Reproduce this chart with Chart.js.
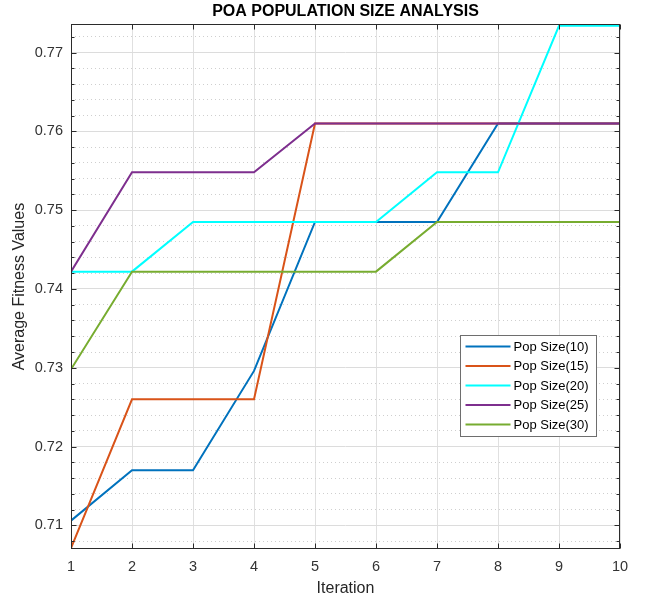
<!DOCTYPE html>
<html>
<head>
<meta charset="utf-8">
<script src="https://cdn.jsdelivr.net/npm/chart.js@4"></script>
<style>
  html, body { margin: 0; padding: 0; background: #fff; }
</style>
</head>
<body>
<canvas id="poa-chart" width="646" height="603"></canvas>
<script>
// values
const iterations = [1, 2, 3, 4, 5, 6, 7, 8, 9, 10];
const popSize10 = [0.7106, 0.7170, 0.7170, 0.7296, 0.7485, 0.7485, 0.7485, 0.7610, 0.7610, 0.7610];
const popSize15 = [0.7071, 0.7260, 0.7260, 0.7260, 0.7610, 0.7610, 0.7610, 0.7610, 0.7610, 0.7610];
const popSize20 = [0.7422, 0.7422, 0.7485, 0.7485, 0.7485, 0.7485, 0.7548, 0.7548, 0.7734, 0.7734];
const popSize25 = [0.7422, 0.7548, 0.7548, 0.7548, 0.7610, 0.7610, 0.7610, 0.7610, 0.7610, 0.7610];
const popSize30 = [0.7298, 0.7422, 0.7422, 0.7422, 0.7422, 0.7422, 0.7485, 0.7485, 0.7485, 0.7485];
const seriesLabels = ['Pop Size(10)', 'Pop Size(15)', 'Pop Size(20)', 'Pop Size(25)', 'Pop Size(30)'];
const yMin = 0.7070, yMax = 0.7736;

const seriesColors = ['#0072BD', '#D95319', '#00FFFF', '#7E2F8E', '#77AC30'];
const allSeries = [popSize10, popSize15, popSize20, popSize25, popSize30];
const FONT = '"Liberation Sans", Arial, sans-serif';

const isMajor = v => Math.abs(v * 100 - Math.round(v * 100)) < 1e-6;

// matlab style box with inward ticks
const framePlugin = {
    id: 'frame',
    afterDatasetsDraw(chart) {
        const { ctx, chartArea: a, scales: { x, y } } = chart;
        const l = Math.round(a.left) + 0.5, r = Math.round(a.right) - 0.5;
        const t = Math.round(a.top) + 0.5, b = Math.round(a.bottom) - 0.5;
        ctx.save();
        ctx.strokeStyle = '#2b2b2b';
        ctx.lineWidth = 1;
        ctx.strokeRect(l, t, r - l, b - t);
        ctx.beginPath();
        y.ticks.forEach(tk => {
            const py = Math.round(y.getPixelForValue(tk.value)) + 0.5;
            const len = isMajor(tk.value) ? 5 : 3;
            ctx.moveTo(l, py); ctx.lineTo(l + len, py);
            ctx.moveTo(r, py); ctx.lineTo(r - len, py);
        });
        x.ticks.forEach(tk => {
            const px = Math.round(x.getPixelForValue(tk.value)) + 0.5;
            ctx.moveTo(px, t); ctx.lineTo(px, t + 5);
            ctx.moveTo(px, b); ctx.lineTo(px, b - 5);
        });
        ctx.stroke();
        ctx.restore();
    }
};

// legend box inside the axes, lower right
const insideLegend = {
    id: 'insideLegend',
    afterDraw(chart) {
        const { ctx, chartArea: a } = chart;
        const items = Chart.defaults.plugins.legend.labels.generateLabels(chart)
            .sort((p, q) => p.datasetIndex - q.datasetIndex);
        const w = 136, h = 101;
        const bx = Math.round(a.right) - 24 - w + 0.5;
        const by = Math.round(a.bottom) - 113 - h + 0.5;
        ctx.save();
        ctx.fillStyle = '#fff';
        ctx.fillRect(bx, by, w, h);
        ctx.strokeStyle = '#6e6e6e';
        ctx.lineWidth = 1;
        ctx.strokeRect(bx, by, w, h);
        ctx.font = '13px ' + FONT;
        ctx.textBaseline = 'middle';
        ctx.fillStyle = '#000';
        items.forEach((it, i) => {
            const ry = by + 11 + i * 19.5;
            ctx.strokeStyle = it.strokeStyle;
            ctx.lineWidth = 2;
            ctx.beginPath();
            ctx.moveTo(bx + 5, ry);
            ctx.lineTo(bx + 50, ry);
            ctx.stroke();
            ctx.fillText(it.text, bx + 53, ry + 0.5);
        });
        ctx.restore();
    }
};

const datasets = allSeries.map((vals, i) => ({
    label: seriesLabels[i],
    data: iterations.map((it, k) => ({ x: it, y: vals[k] })),
    borderColor: seriesColors[i],
    backgroundColor: seriesColors[i],
    borderWidth: 2,
    pointRadius: 0,
    tension: 0,
    order: allSeries.length - i   // later series drawn on top
}));

new Chart(document.getElementById('poa-chart'), {
    type: 'line',
    data: { datasets },
    options: {
        responsive: false,
        animation: false,
        layout: { padding: { left: 0, right: 26, top: 0, bottom: 0 } },
        plugins: {
            legend: { display: false },
            tooltip: { enabled: false },
            title: {
                display: true,
                text: 'POA POPULATION SIZE ANALYSIS',
                fullSize: false,
                color: '#000',
                font: { family: FONT, size: 16, weight: 'bold' },
                padding: { top: 2, bottom: 3 }
            }
        },
        scales: {
            x: {
                type: 'linear',
                min: 1,
                max: 10,
                ticks: {
                    stepSize: 1,
                    padding: 9,
                    color: '#333',
                    font: { family: FONT, size: 14.5 }
                },
                grid: { color: '#e0e0e0', drawTicks: false },
                border: { display: false },
                title: {
                    display: true,
                    text: 'Iteration',
                    color: '#262626',
                    font: { family: FONT, size: 16 },
                    padding: { top: 0, bottom: 4.4 }
                },
                afterFit: scale => { scale.height = 54; }
            },
            y: {
                min: yMin,
                max: yMax,
                ticks: {
                    stepSize: 0.002,
                    includeBounds: false,
                    autoSkip: false,
                    padding: 8,
                    color: '#333',
                    font: { family: FONT, size: 14.5 },
                    callback: v => isMajor(v) ? v.toFixed(2) : ''
                },
                grid: {
                    drawTicks: false,
                    color: c => isMajor(c.tick.value) ? '#dcdcdc' : '#cfcfcf'
                },
                border: {
                    display: false,
                    dash: c => (c.tick && !isMajor(c.tick.value)) ? [1, 3] : []
                },
                title: {
                    display: true,
                    text: 'Average Fitness Values',
                    color: '#262626',
                    font: { family: FONT, size: 16 },
                    padding: { top: 10.4, bottom: 0 }
                },
                afterFit: scale => { scale.width = 71; }
            }
        }
    },
    plugins: [framePlugin, insideLegend]
});
</script>
</body>
</html>
